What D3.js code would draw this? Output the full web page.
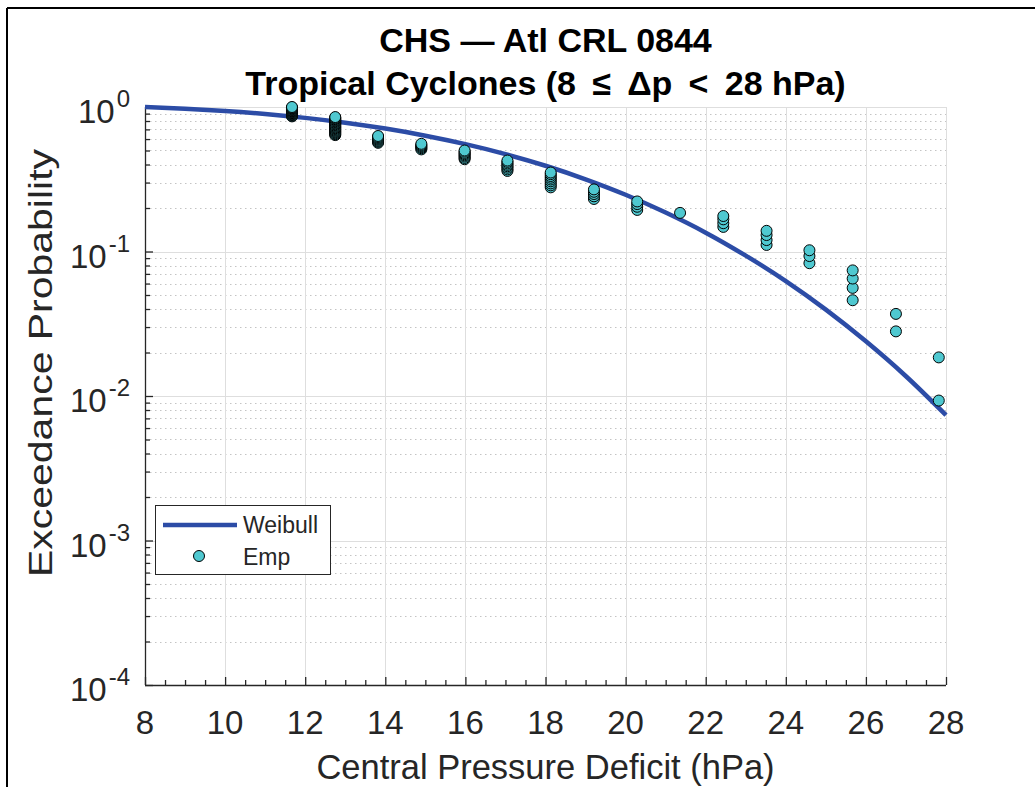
<!DOCTYPE html>
<html>
<head>
<meta charset="utf-8">
<script src="https://cdn.jsdelivr.net/npm/d3@7"></script>
<style>
html,body{margin:0;padding:0;background:#fff;}
svg{display:block;}
text{font-family:"Liberation Sans",Arial,Helvetica,sans-serif;}
</style>
</head>
<body>
<svg id="chart" width="1035" height="787"></svg>
<script>
// ---------------- data ----------------
const titleLines = ["CHS \u2014 Atl CRL 0844", "Tropical Cyclones (8 \u2009\u2264\u2009 \u0394p \u2009<\u2009 28 hPa)"];
const xLabel = "Central Pressure Deficit (hPa)";
const yLabel = "Exceedance Probability";
const xTicks = [8, 10, 12, 14, 16, 18, 20, 22, 24, 26, 28];
const yTickExponents = [0, -1, -2, -3, -4];
const legendLabels = ["Weibull", "Emp"];

// Weibull fitted curve
const weibullDeficit = [8, 9, 10, 11, 12, 13, 14, 15, 16, 17, 18, 19, 20, 21, 22, 23, 24, 25, 26, 27, 28];
const weibullProb = [1.0, 0.973, 0.938, 0.894, 0.841, 0.779, 0.709, 0.633, 0.553, 0.472, 0.392, 0.316, 0.247, 0.186, 0.135, 0.0936, 0.0624, 0.0396, 0.0239, 0.0137, 0.00737];

const empColumns = [11.67, 12.75, 13.82, 14.90, 15.98, 17.05, 18.13, 19.21, 20.29, 21.36, 22.44, 23.52, 24.59, 25.67, 26.75, 27.82];
const empProbByColumn = [
  [1.000, 0.991, 0.981, 0.972, 0.963, 0.954, 0.944, 0.935, 0.926, 0.917, 0.907, 0.898, 0.889, 0.880, 0.870, 0.861],
  [0.852, 0.843, 0.833, 0.824, 0.815, 0.806, 0.796, 0.787, 0.778, 0.769, 0.759, 0.750, 0.741, 0.731, 0.722, 0.713, 0.704, 0.694, 0.685, 0.676, 0.667, 0.657, 0.648, 0.639],
  [0.630, 0.620, 0.611, 0.602, 0.593, 0.583, 0.574, 0.565],
  [0.556, 0.546, 0.537, 0.528, 0.519, 0.509],
  [0.500, 0.491, 0.481, 0.472, 0.463, 0.454, 0.444, 0.435],
  [0.426, 0.417, 0.407, 0.398, 0.389, 0.380, 0.370, 0.361],
  [0.352, 0.343, 0.333, 0.324, 0.315, 0.306, 0.296, 0.287, 0.278],
  [0.269, 0.259, 0.250, 0.241, 0.231],
  [0.222, 0.213, 0.204, 0.194],
  [0.185],
  [0.176, 0.167, 0.157, 0.148],
  [0.139, 0.130, 0.120, 0.111],
  [0.102, 0.093, 0.083],
  [0.074, 0.065, 0.056, 0.046],
  [0.037, 0.028],
  [0.0185, 0.0093]
];

// ---------------- layout ----------------
const W = 1035, H = 787;
const plot = {left: 145, right: 946, top: 107, bottom: 685};
const lineColor = "#2c4ca6";
const markerFill = "#4fc8d0";
const axisColor = "#262626";

const svg = d3.select("#chart");

// outer figure frame (top & left edges visible)
svg.append("line").attr("x1", 7).attr("y1", 8).attr("x2", W).attr("y2", 8)
  .attr("stroke", "#000").attr("stroke-width", 2);
svg.append("line").attr("x1", 7).attr("y1", 8).attr("x2", 7).attr("y2", H)
  .attr("stroke", "#000").attr("stroke-width", 2);

const x = d3.scaleLinear().domain([8, 28]).range([plot.left, plot.right]);
const y = d3.scaleLog().domain([1e-4, 1]).range([plot.bottom, plot.top]);

// minor y values
const yMinor = [];
for (let e = -4; e < 0; e++) for (let m = 2; m <= 9; m++) yMinor.push(m * Math.pow(10, e));
const yMajor = yTickExponents.map(e => Math.pow(10, e));
const xMinor = d3.range(8, 28.001, 0.5).filter(v => Math.abs(v / 2 - Math.round(v / 2)) > 1e-6);

const grid = svg.append("g");
grid.selectAll("line.ymin").data(yMinor).join("line")
  .attr("x1", plot.left).attr("x2", plot.right)
  .attr("y1", d => Math.round(y(d)) + 0.5).attr("y2", d => Math.round(y(d)) + 0.5)
  .attr("stroke", "#c4c4c4").attr("stroke-width", 1).attr("stroke-dasharray", "1.5,3.5");
grid.selectAll("line.xmaj").data(xTicks).join("line")
  .attr("x1", d => Math.round(x(d)) + 0.5).attr("x2", d => Math.round(x(d)) + 0.5)
  .attr("y1", plot.top).attr("y2", plot.bottom)
  .attr("stroke", "#dedede").attr("stroke-width", 1);
grid.selectAll("line.ymaj").data(yMajor).join("line")
  .attr("x1", plot.left).attr("x2", plot.right)
  .attr("y1", d => Math.round(y(d)) + 0.5).attr("y2", d => Math.round(y(d)) + 0.5)
  .attr("stroke", "#dedede").attr("stroke-width", 1);

// axes (ticks inward)
const axes = svg.append("g");
const xAxisG = axes.append("g").attr("transform", `translate(0,${plot.bottom})`)
  .call(d3.axisBottom(x).tickValues(xTicks).tickSize(-8).tickFormat(""));
const xMinorG = axes.append("g").attr("transform", `translate(0,${plot.bottom})`)
  .call(d3.axisBottom(x).tickValues(xMinor).tickSize(-5).tickFormat(""));
const yAxisG = axes.append("g").attr("transform", `translate(${plot.left},0)`)
  .call(d3.axisLeft(y).tickValues(yMajor).tickSize(-8).tickFormat(""));
const yMinorG = axes.append("g").attr("transform", `translate(${plot.left},0)`)
  .call(d3.axisLeft(y).tickValues(yMinor).tickSize(-5).tickFormat(""));
[xAxisG, xMinorG, yAxisG, yMinorG].forEach(g => {
  g.selectAll("path.domain").attr("stroke", axisColor).attr("stroke-width", 1.3);
  g.selectAll(".tick line").attr("stroke", axisColor).attr("stroke-width", 1.3);
});
xMinorG.select("path.domain").remove();
yMinorG.select("path.domain").remove();
xAxisG.select("path.domain").attr("d", `M${plot.left},0.5H${plot.right}`);
yAxisG.select("path.domain").attr("d", `M0.5,${plot.top}V${plot.bottom}`);

// x tick labels
svg.append("g").selectAll("text").data(xTicks).join("text")
  .attr("x", d => x(d)).attr("y", 734)
  .attr("text-anchor", "middle").attr("font-size", 33).attr("fill", axisColor)
  .text(d => d);

// y tick labels 10^e
const yl = svg.append("g").selectAll("text").data(yTickExponents).join("text")
  .attr("x", 130).attr("y", d => y(Math.pow(10, d)) + 16)
  .attr("text-anchor", "end").attr("fill", axisColor);
yl.append("tspan").attr("font-size", 33).text("10");
yl.append("tspan").attr("font-size", 24).attr("dy", -16).attr("dx", 2).text(d => d);

// axis labels
svg.append("text").attr("x", (plot.left + plot.right) / 2).attr("y", 779)
  .attr("text-anchor", "middle").attr("font-size", 34.5).attr("fill", axisColor).text(xLabel);
svg.append("text").attr("transform", `translate(52,363) rotate(-90)`)
  .attr("text-anchor", "middle").attr("font-size", 34).attr("fill", axisColor)
  .attr("textLength", 428).attr("lengthAdjust", "spacingAndGlyphs").text(yLabel);

// title
svg.append("g").selectAll("text").data(titleLines).join("text")
  .attr("x", (plot.left + plot.right) / 2).attr("y", (d, i) => 52 + i * 43)
  .attr("text-anchor", "middle").attr("font-size", 34).attr("font-weight", "bold").attr("fill", "#000")
  .text(d => d);

// Weibull line
const lineGen = d3.line().x(d => x(d[0])).y(d => y(d[1])).curve(d3.curveMonotoneX);
svg.append("path").datum(weibullDeficit.map((d, i) => [d, weibullProb[i]]))
  .attr("d", lineGen).attr("fill", "none").attr("stroke", lineColor).attr("stroke-width", 4.5);

// Empirical points; lowest probability drawn first in each column
const empPoints = [];
empColumns.forEach((c, i) => {
  empProbByColumn[i].slice().sort((a, b) => a - b).forEach(p => empPoints.push([c, p]));
});
svg.append("g").selectAll("circle").data(empPoints).join("circle")
  .attr("cx", d => x(d[0])).attr("cy", d => y(d[1])).attr("r", 5.5)
  .attr("fill", markerFill).attr("stroke", "#000").attr("stroke-width", 1);

// legend
const lg = svg.append("g");
lg.append("rect").attr("x", 155.5).attr("y", 505.5).attr("width", 175).attr("height", 69)
  .attr("fill", "#fff").attr("stroke", axisColor).attr("stroke-width", 1);
lg.append("line").attr("x1", 163).attr("x2", 237).attr("y1", 525).attr("y2", 525)
  .attr("stroke", lineColor).attr("stroke-width", 4.5);
lg.append("circle").attr("cx", 199).attr("cy", 556).attr("r", 5.5)
  .attr("fill", markerFill).attr("stroke", "#000").attr("stroke-width", 1);
lg.selectAll("text").data(legendLabels).join("text")
  .attr("x", 243).attr("y", (d, i) => 533 + i * 32)
  .attr("font-size", 23).attr("fill", axisColor).text(d => d);
</script>
</body>
</html>
